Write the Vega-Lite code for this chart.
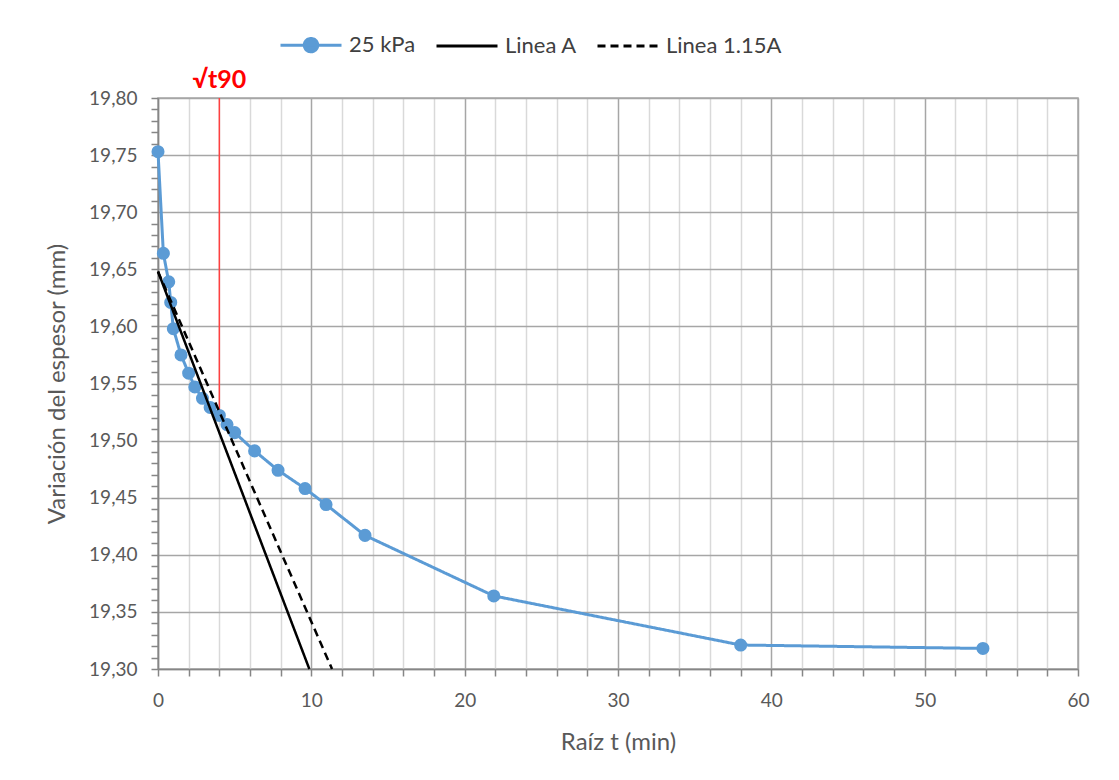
{
  "$schema": "https://vega.github.io/schema/vega-lite/v6.json",
  "width": 920,
  "height": 571,
  "autosize": {"type": "none"},
  "padding": {"left": 158, "top": 98, "right": 41, "bottom": 111},
  "background": "white",
  "config": {
    "font": "Lato",
    "view": {"stroke": "#a6a6a6", "strokeWidth": 1.5},
    "axis": {
      "labelFont": "Lato", "labelFontSize": 19, "labelColor": "#595959",
      "titleFont": "Lato", "titleFontSize": 24, "titleColor": "#595959", "titleFontWeight": "normal",
      "domainColor": "#868686", "domainWidth": 1.5, "tickColor": "#868686", "tickWidth": 1.5, "tickSize": 7,
      "labelOverlap": false, "labelBound": false, "labelFlush": false
    }
  },
  "datasets": {
    "medidas": [
      {"serie": "25 kPa", "t": 0.0, "e": 19.753},
      {"serie": "25 kPa", "t": 0.35, "e": 19.664},
      {"serie": "25 kPa", "t": 0.7, "e": 19.639},
      {"serie": "25 kPa", "t": 0.83, "e": 19.621},
      {"serie": "25 kPa", "t": 1.0, "e": 19.598},
      {"serie": "25 kPa", "t": 1.5, "e": 19.575},
      {"serie": "25 kPa", "t": 2.0, "e": 19.559},
      {"serie": "25 kPa", "t": 2.4, "e": 19.547},
      {"serie": "25 kPa", "t": 2.9, "e": 19.537},
      {"serie": "25 kPa", "t": 3.4, "e": 19.529},
      {"serie": "25 kPa", "t": 4.0, "e": 19.522},
      {"serie": "25 kPa", "t": 4.5, "e": 19.514},
      {"serie": "25 kPa", "t": 5.0, "e": 19.507},
      {"serie": "25 kPa", "t": 6.3, "e": 19.491},
      {"serie": "25 kPa", "t": 7.83, "e": 19.474},
      {"serie": "25 kPa", "t": 9.59, "e": 19.458},
      {"serie": "25 kPa", "t": 10.96, "e": 19.444},
      {"serie": "25 kPa", "t": 13.5, "e": 19.417},
      {"serie": "25 kPa", "t": 21.9, "e": 19.364},
      {"serie": "25 kPa", "t": 38.0, "e": 19.321},
      {"serie": "25 kPa", "t": 53.8, "e": 19.318}
    ],
    "lineas": [
      {"serie": "Linea A", "t": 0, "e": 19.648},
      {"serie": "Linea A", "t": 9.87, "e": 19.30},
      {"serie": "Linea 1.15A", "t": 0, "e": 19.648},
      {"serie": "Linea 1.15A", "t": 11.35, "e": 19.30}
    ],
    "t90": [
      {"t": 4.0, "e1": 19.80, "e2": 19.522, "label": "√t90"}
    ]
  },
  "layer": [
    {
      "data": {"name": "t90"},
      "mark": {"type": "rule", "color": "#ff4040", "strokeWidth": 1.5},
      "encoding": {
        "x": {"field": "t", "type": "quantitative",
          "scale": {"domain": [0, 60], "nice": false, "zero": false},
          "axis": {
            "title": "Raíz t (min)",
            "values": [0,2,4,6,8,10,12,14,16,18,20,22,24,26,28,30,32,34,36,38,40,42,44,46,48,50,52,54,56,58,60],
            "tickCount": 200,
            "labelExpr": "datum.value % 10 == 0 ? format(datum.value, 'd') : ''",
            "labelPadding": 15,
            "titlePadding": 20,
            "grid": true,
            "gridColor": {"condition": {"test": "datum.value % 10 == 0", "value": "#a6a6a6"}, "value": "#d9d9d9"},
            "gridWidth": 1.5
          }
        },
        "y": {"field": "e1", "type": "quantitative",
          "scale": {"domain": [19.30, 19.80], "nice": false, "zero": false},
          "axis": {
            "title": "Variación del espesor (mm)",
            "values": [19.30,19.31,19.32,19.33,19.34,19.35,19.36,19.37,19.38,19.39,19.40,19.41,19.42,19.43,19.44,19.45,19.46,19.47,19.48,19.49,19.50,19.51,19.52,19.53,19.54,19.55,19.56,19.57,19.58,19.59,19.60,19.61,19.62,19.63,19.64,19.65,19.66,19.67,19.68,19.69,19.70,19.71,19.72,19.73,19.74,19.75,19.76,19.77,19.78,19.79,19.80],
            "tickCount": 200,
            "labelExpr": "round(datum.value * 100) % 5 == 0 ? replace(format(datum.value, '.2f'), '.', ',') : ''",
            "labelPadding": 14,
            "titlePadding": 19,
            "grid": true,
            "gridColor": "#a6a6a6",
            "gridWidth": 1.5,
            "gridOpacity": {"condition": {"test": "round(datum.value * 100) % 5 == 0", "value": 1}, "value": 0}
          }
        },
        "y2": {"field": "e2"}
      }
    },
    {
      "data": {"name": "t90"},
      "mark": {"type": "text", "color": "#ff0000", "fontWeight": "bold", "fontSize": 25, "font": "Lato", "baseline": "bottom", "dy": -5},
      "encoding": {
        "x": {"field": "t", "type": "quantitative"},
        "y": {"field": "e1", "type": "quantitative"},
        "text": {"field": "label"}
      }
    },
    {
      "data": {"name": "medidas"},
      "mark": {"type": "line", "strokeWidth": 3},
      "encoding": {
        "x": {"field": "t", "type": "quantitative"},
        "y": {"field": "e", "type": "quantitative"},
        "color": {"field": "serie", "type": "nominal",
          "scale": {"domain": ["25 kPa", "Linea A", "Linea 1.15A"], "range": ["#5b9bd5", "#000000", "#000000"]},
          "legend": {
            "title": null,
            "orient": "none",
            "direction": "horizontal",
            "legendX": 121,
            "legendY": -85,
            "symbolType": "stroke",
            "symbolSize": 3721,
            "symbolStrokeWidth": 3,
            "labelFont": "Lato",
            "labelFontSize": 22,
            "labelColor": "#404040",
            "labelOffset": 6,
            "columnPadding": 14,
            "encode": {
              "symbols": {
                "update": {
                  "shape": {"signal": "datum.value === '25 kPa' ? 'M-1,0H1M-0.22,0A0.22,0.22,0,1,1,0.22,0A0.22,0.22,0,1,1,-0.22,0Z' : 'stroke'"},
                  "fill": {"signal": "datum.value === '25 kPa' ? '#5b9bd5' : 'transparent'"}
                }
              }
            }
          }
        },
        "strokeDash": {"field": "serie", "type": "nominal",
          "scale": {"domain": ["25 kPa", "Linea A", "Linea 1.15A"], "range": [[1, 0], [1, 0], [8, 5]]},
          "legend": null
        }
      }
    },
    {
      "data": {"name": "medidas"},
      "mark": {"type": "point", "filled": true, "opacity": 1, "size": 170, "color": "#5b9bd5"},
      "encoding": {
        "x": {"field": "t", "type": "quantitative"},
        "y": {"field": "e", "type": "quantitative"}
      }
    },
    {
      "data": {"name": "lineas"},
      "mark": {"type": "line", "strokeWidth": 2.5},
      "encoding": {
        "x": {"field": "t", "type": "quantitative"},
        "y": {"field": "e", "type": "quantitative"},
        "color": {"field": "serie", "type": "nominal"},
        "strokeDash": {"field": "serie", "type": "nominal"}
      }
    }
  ]
}
